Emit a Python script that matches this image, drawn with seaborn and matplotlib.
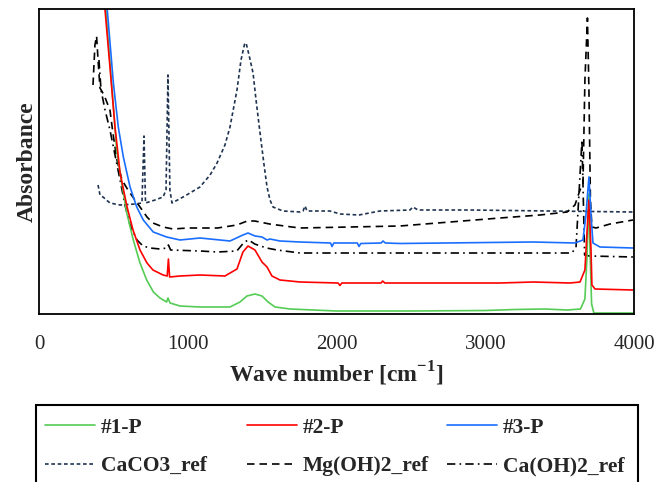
import numpy as np
import pandas as pd
import matplotlib
matplotlib.use("Agg")
import matplotlib.pyplot as plt
from matplotlib.lines import Line2D
from matplotlib.patches import Rectangle
import seaborn as sns

# ---------------- data ----------------
p1_wn = [440, 450, 488, 522, 545, 590, 634, 679, 724, 769, 813, 858, 867, 881, 948, 1082, 1284, 1351, 1398,
         1452, 1499, 1540, 1587, 1687, 2000, 2500, 3000, 3200, 3400, 3550, 3640, 3670, 3685, 3695, 3705,
         3715, 3730, 4000]
p1_ab = [330, 304, 231, 164, 141, 101, 74, 51, 34, 22, 16, 12, 16, 11, 8, 7, 7, 12, 18,
         20, 18, 12, 7, 5, 3, 3, 3.5, 4.5, 5, 4, 5, 15, 60, 120, 60,
         10, 1, 1]

p2_wn = [435, 444, 477, 511, 545, 592, 632, 679, 726, 766, 834, 862, 870, 878, 948, 1082, 1250, 1331,
         1371, 1405, 1452, 1499, 1533, 1566, 1620, 1755, 2010, 2023, 2036, 2300, 2310, 2325, 3100, 3321,
         3570, 3637, 3670, 3685, 3697, 3711, 3717, 3738, 3993]
p2_ab = [330, 304, 247, 187, 141, 107, 84, 64, 51, 44, 39, 38, 55, 37, 38, 39, 38, 45,
         62, 68, 64, 52, 47, 38, 34, 32, 31, 28.5, 31, 31, 33, 31, 31, 32,
         31, 32, 44, 84, 114, 64, 29, 25, 24]

p3_wn = [450, 459, 500, 533, 567, 612, 657, 701, 768, 858, 948, 1082, 1284, 1371, 1405, 1452, 1499, 1533,
         1553, 1620, 1755, 1960, 1970, 1982, 2140, 2151, 2163, 2300, 2313, 2328, 2427, 3321, 3603, 3657,
         3677, 3697, 3711, 3724, 3771, 3993]
p3_ab = [330, 304, 231, 187, 157, 127, 107, 94, 82, 77, 74, 76, 73, 79, 81, 78, 77, 74,
         75, 73, 72, 71, 67.5, 71, 71, 67.5, 70.5, 71, 73, 71, 70.5, 72, 71, 74,
         99, 137, 99, 71, 67, 66]

caco3_wn = [397, 410, 430, 477, 545, 645, 692, 706, 716, 780, 834, 854, 867, 880, 894, 981, 1082, 1150,
            1197, 1250, 1284, 1331, 1358, 1382, 1392, 1412, 1439, 1459, 1486, 1513, 1533, 1553, 1573,
            1640, 1755, 1775, 1788, 1802, 1956, 2024, 2151, 2292, 2494, 2514, 2548, 2897, 3435, 3993]
caco3_ab = [129, 119, 117, 111, 109, 110, 111, 178, 111, 114, 117, 124, 239, 124, 111, 118, 127, 139,
            151, 169, 187, 224, 254, 270, 271, 259, 241, 214, 181, 149, 127, 114, 107,
            103, 102, 103, 108, 103, 103, 100, 99, 103, 104, 107, 104, 104, 103, 102]

mgoh_wn = [363, 376, 387, 397, 410, 437, 477, 497, 524, 558, 598, 645, 679, 726, 766, 834, 901,
           1000, 1200, 1330, 1400, 1450, 1550, 1700, 1755, 2427, 2763, 3099, 3368, 3550, 3603, 3637,
           3657, 3670, 3687, 3697, 3707, 3717, 3745, 3839, 3993]
mgoh_ab = [229, 269, 278, 254, 226, 219, 204, 181, 154, 134, 124, 114, 107, 97, 91, 87, 85,
           86, 86, 89, 93, 93, 90, 87, 86, 88, 92, 96, 99, 102, 109, 124,
           130, 234, 296, 224, 114, 87, 86, 90, 94]

caoh_wn = [403, 417, 444, 477, 511, 545, 578, 612, 659, 699, 746, 813, 860, 870, 885, 1082, 1200, 1330,
           1380, 1410, 1450, 1530, 1600, 1755, 2000, 3000, 3580, 3610, 3630, 3650, 3660, 3668, 3700, 4000]
caoh_ab = [254, 224, 204, 184, 159, 134, 109, 89, 74, 68, 66, 65, 66, 69, 64, 63, 62, 63,
           72, 74, 70, 66, 64, 61, 61, 61, 61, 66, 120, 174, 110, 59, 58, 57]

series = ["#1-P", "#2-P", "#3-P", "CaCO3_ref", "Mg(OH)2_ref", "Ca(OH)2_ref"]
x_ticks = [0, 1000, 2000, 3000, 4000]

# ---------------- styles ----------------
styles = {
    "#1-P": dict(color="#55CC55", ls="-"),
    "#2-P": dict(color="#FF0000", ls="-"),
    "#3-P": dict(color="#1A6EFF", ls="-"),
    "CaCO3_ref": dict(color="#1F3350", ls=(0, (2.2, 1.6))),
    "Mg(OH)2_ref": dict(color="#000000", ls=(0, (4.5, 3))),
    "Ca(OH)2_ref": dict(color="#000000", ls=(0, (5, 2.5, 1, 2.5))),
}
data = {
    "#1-P": (p1_wn, p1_ab),
    "#2-P": (p2_wn, p2_ab),
    "#3-P": (p3_wn, p3_ab),
    "CaCO3_ref": (caco3_wn, caco3_ab),
    "Mg(OH)2_ref": (mgoh_wn, mgoh_ab),
    "Ca(OH)2_ref": (caoh_wn, caoh_ab),
}

sns.set_style("white")
plt.rcParams["font.family"] = ["Liberation Serif", "DejaVu Serif"]
plt.rcParams["mathtext.fontset"] = "custom"
plt.rcParams["mathtext.rm"] = "Liberation Serif"
plt.rcParams["mathtext.bf"] = "Liberation Serif:bold"

W, H = 670, 482
fig = plt.figure(figsize=(W / 100, H / 100), dpi=100)
ax = fig.add_axes([39 / W, 1 - 314 / H, (634 - 39) / W, (314 - 9) / H])

draw_order = ["CaCO3_ref", "Mg(OH)2_ref", "Ca(OH)2_ref", "#1-P", "#2-P", "#3-P"]
for name in draw_order:
    wn, ab = data[name]
    df = pd.DataFrame({"wn": wn, "ab": ab})
    st = styles[name]
    sns.lineplot(data=df, x="wn", y="ab", ax=ax, sort=False, estimator=None,
                 color=st["color"], linestyle=st["ls"], linewidth=1.2)

ax.set_xlim(0, 4000)
ax.set_ylim(0, 305)
ax.set_xticks(x_ticks)
ax.set_xticklabels([str(t) for t in x_ticks], fontsize=15)
ax.set_yticks([])
ax.tick_params(axis="x", direction="in", length=5, width=1, color="black", pad=15)
for s in ax.spines.values():
    s.set_color("black")
    s.set_linewidth(1.3)
ax.set_xlabel(r"Wave number [cm$^{\mathbf{-1}}$]", fontsize=17, fontweight="bold", labelpad=4)
ax.set_ylabel("Absorbance", fontsize=17, fontweight="bold", labelpad=1)

# ---------------- legend ----------------
fig.add_artist(Rectangle((36 / W, -0.01), (638 - 36) / W, (H - 405) / H + 0.01, transform=fig.transFigure,
                         fill=False, edgecolor="black", linewidth=1.5))
positions = {
    "#1-P": (45, 428), "#2-P": (247, 428), "#3-P": (447, 428),
    "CaCO3_ref": (45, 466), "Mg(OH)2_ref": (247, 466), "Ca(OH)2_ref": (447, 466),
}
for name in series:
    st = styles[name]
    h = Line2D([], [], color=st["color"], linestyle=st["ls"], linewidth=1.2)
    px, py = positions[name]
    fig.legend(handles=[h], labels=[name], loc="center left",
               bbox_to_anchor=(px / W, 1 - py / H), frameon=False,
               borderaxespad=0, borderpad=0, handlelength=2.3, handletextpad=0.3,
               prop={"family": "Liberation Serif", "weight": "bold", "size": 15.5})

fig.savefig("out.png", dpi=100)
